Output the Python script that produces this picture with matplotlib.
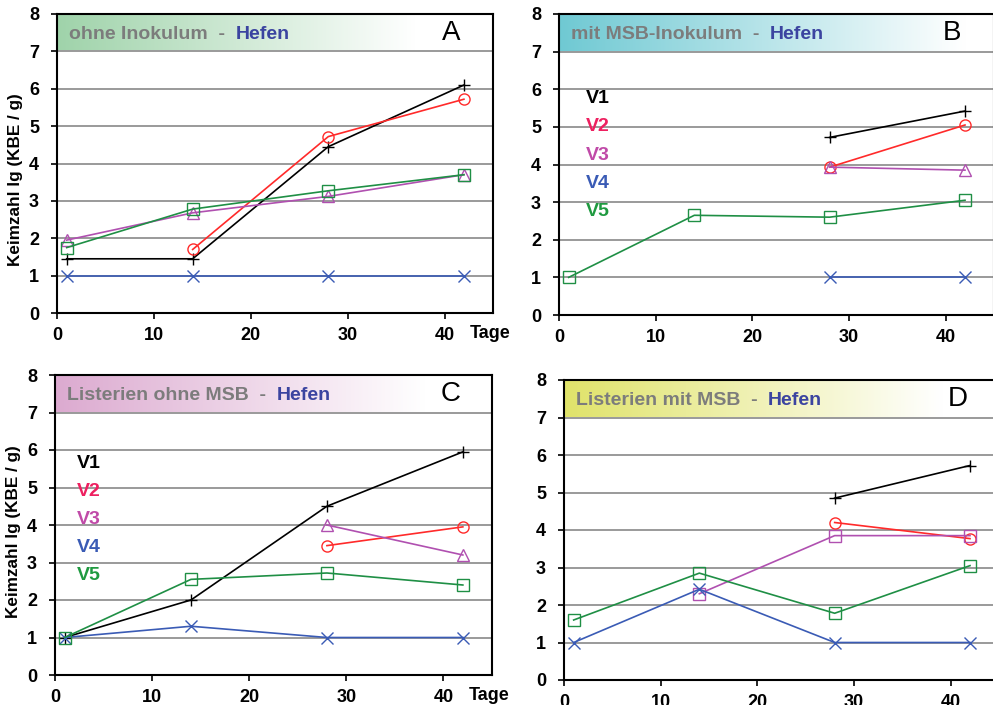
import matplotlib.pyplot as plt
import numpy as np
from matplotlib.offsetbox import TextArea, HPacker, AnnotationBbox
from matplotlib.colors import to_rgb

plt.rcParams['font.family'] = ['Liberation Sans', 'DejaVu Sans']

days = [1, 14, 28, 42]
nan = np.nan

# Keimzahl lg (KBE / g) per Variante, panels A-D
a_v1 = [1.45, 1.45, 4.45, 6.1]
a_v2 = [nan, 1.7, 4.72, 5.72]
a_v3 = [1.95, 2.68, 3.12, 3.7]
a_v4 = [1.0, 1.0, 1.0, 1.0]
a_v5 = [1.75, 2.78, 3.27, 3.7]

b_v1 = [nan, nan, 4.72, 5.42]
b_v2 = [nan, nan, 3.93, 5.05]
b_v3 = [nan, nan, 3.93, 3.85]
b_v4 = [nan, nan, 1.0, 1.0]
b_v5 = [1.0, 2.65, 2.6, 3.05]

c_v1 = [1.0, 2.0, 4.5, 5.95]
c_v2 = [nan, nan, 3.45, 3.95]
c_v3 = [nan, nan, 4.0, 3.2]
c_v4 = [1.0, 1.3, 1.0, 1.0]
c_v5 = [1.0, 2.55, 2.72, 2.4]

d_v1 = [nan, nan, 4.85, 5.72]
d_v2 = [nan, nan, 4.2, 3.77]
d_v3 = [nan, 2.3, 3.85, 3.85]
d_v4 = [1.0, 2.42, 1.0, 1.0]
d_v5 = [1.6, 2.85, 1.78, 3.05]

titles = ['ohne Inokulum', 'mit MSB-Inokulum', 'Listerien ohne MSB', 'Listerien mit MSB']
letters = ['A', 'B', 'C', 'D']
band_cols = ['#9fd3aa', '#6fc9d3', '#dcaad0', '#e0e36a']
band_fade = [37, 42, 38, 39]
labels = ['V1', 'V2', 'V3', 'V4', 'V5']
line_cols = ['black', '#ff2a2a', '#b050b0', '#3a5bb5', '#1f8f45']
text_cols = ['black', '#ee2060', '#c04aa8', '#3a5bb5', '#1f9a40']

panels = [
    [a_v1, a_v2, a_v3, a_v4, a_v5],
    [b_v1, b_v2, b_v3, b_v4, b_v5],
    [c_v1, c_v2, c_v3, c_v4, c_v5],
    [d_v1, d_v2, d_v3, d_v4, d_v5],
]

W, H = 993, 705
rects = [
    (57, 14, 436, 299),
    (559, 14, 435, 301),
    (55, 375, 437, 300),
    (564, 380, 435, 300),
]
ylab_pos = {0: 0.445, 2: 0.477}

fig = plt.figure(figsize=(9.93, 7.05), dpi=100)

for i, (series, rect) in enumerate(zip(panels, rects)):
    x0, y0, w, h = rect
    ax = fig.add_axes([x0 / W, 1 - (y0 + h) / H, w / W, h / H])
    ax.set_xlim(0, 45)
    ax.set_ylim(0, 8)

    # header band with gradient
    c = np.array(to_rgb(band_cols[i]))
    xs = np.linspace(0, 45, 300)
    t = np.clip(xs / band_fade[i], 0, 1)
    grad = c[None, :] * (1 - t[:, None]) + np.ones(3)[None, :] * t[:, None]
    ax.imshow(grad[None, :, :], extent=[0, 45, 7, 8], aspect='auto', zorder=0.5)

    for yv in range(1, 8):
        ax.axhline(yv, color='#9a9a9a', lw=1.4, zorder=1)

    markers = ['+', 'o', '^', 'x', 's']
    if i == 3:
        markers[2] = 's'
    for k, vals in enumerate(series):
        ax.plot(days, vals, color=line_cols[k], lw=1.2, marker=markers[k],
                markersize=9 if markers[k] in ('+', 'x') else 8,
                markerfacecolor='none', markeredgecolor=line_cols[k],
                markeredgewidth=1.0, zorder=3)

    parts = [TextArea(titles[i] + '  -  ', textprops=dict(color='#7c7c7c', fontsize=14, fontweight='bold')),
             TextArea('Hefen', textprops=dict(color='#3b44a0', fontsize=14, fontweight='bold'))]
    box = HPacker(children=parts, pad=0, sep=0, align='baseline')
    ab = AnnotationBbox(box, (1.2, 7.45), xycoords='data', box_alignment=(0, 0.5), frameon=False, zorder=4)
    ax.add_artist(ab)
    ax.text(40.7, 7.5, letters[i], fontsize=20, ha='center', va='center', zorder=4)

    if i in (1, 2):
        lx = 2.8 if i == 1 else 2.3
        ly0 = 5.75 if i == 1 else 5.65
        for k in range(5):
            ax.text(lx, ly0 - 0.75 * k, labels[k], color=text_cols[k], fontsize=14,
                    fontweight='bold', ha='left', va='center', zorder=4)

    if i in (0, 2):
        ax.set_ylabel('Keimzahl lg (KBE / g)', fontsize=12.3, fontweight='bold', labelpad=4,
                      y=ylab_pos[i])
        ax.text(42.6, -0.55, 'Tage', fontsize=13, fontweight='bold', ha='left', va='center', clip_on=False)

    ax.set_xticks([0, 10, 20, 30, 40])
    ax.set_yticks(range(9))
    ax.tick_params(direction='out', length=4, width=1.2, labelsize=13, pad=6)
    ax.tick_params(axis='y', pad=9)
    for lab in ax.get_xticklabels() + ax.get_yticklabels():
        lab.set_fontweight('bold')
    for sp in ax.spines.values():
        sp.set_linewidth(1.5)
        sp.set_zorder(5)

fig.savefig('out.png', dpi=100)
